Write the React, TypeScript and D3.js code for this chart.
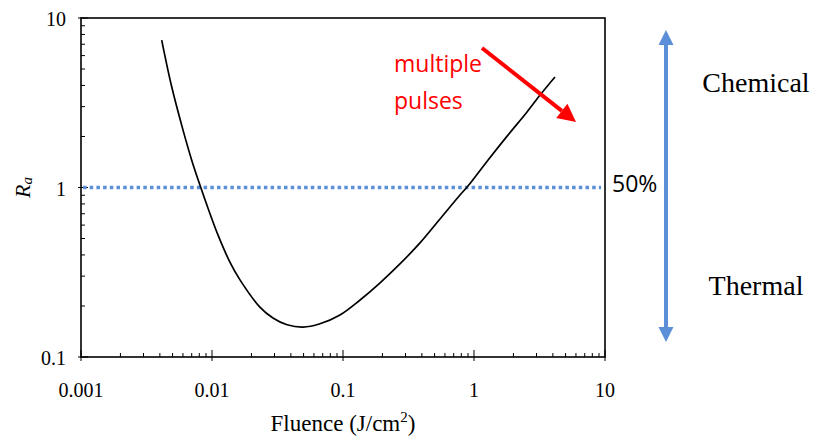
import React from 'react'
import * as d3 from 'd3'

// curve (fluence J/cm2, Ra)
const fluence = [0.00413, 0.00492, 0.00601, 0.007, 0.0081, 0.00931, 0.0111, 0.0137, 0.0164, 0.0232, 0.0292, 0.0374, 0.0496, 0.0667, 0.0948, 0.135, 0.191, 0.272, 0.387, 0.55, 0.782, 0.899, 1.26, 1.79, 2.54, 3.24, 4.15]
const ra = [7.41, 3.94, 2.18, 1.45, 1.03, 0.757, 0.525, 0.363, 0.284, 0.197, 0.17, 0.155, 0.15, 0.157, 0.177, 0.217, 0.273, 0.354, 0.471, 0.652, 0.903, 1.02, 1.43, 2.01, 2.79, 3.56, 4.49]

const xTicks = [0.001, 0.01, 0.1, 1, 10]
const xTickLabels = ['0.001', '0.01', '0.1', '1', '10']
const yTicks = [0.1, 1, 10]
const yTickLabels = ['0.1', '1', '10']
const threshold = 1

const W = 815
const H = 438
const left = 81, right = 605, top = 18, bottom = 357

const serif = '"Liberation Serif", "DejaVu Serif", serif'
const sans = '"Open Sans", "Liberation Sans", sans-serif'
const blue = '#5b8fd8'

if (typeof document !== 'undefined') document.body.style.margin = '0'

export default function App() {
  const x = d3.scaleLog().domain([0.001, 10]).range([left, right])
  const y = d3.scaleLog().domain([0.1, 10]).range([bottom, top])

  const pts = fluence.map((f, i) => [f, ra[i]] as [number, number])
  const line = d3.line<[number, number]>()
    .x(d => x(d[0]))
    .y(d => y(d[1]))
    .curve(d3.curveCatmullRom)

  // minor ticks 2..9 per decade
  const minorX: number[] = []
  xTicks.slice(0, -1).forEach(t => { for (let k = 2; k < 10; k++) minorX.push(t * k) })
  const minorY: number[] = []
  yTicks.slice(0, -1).forEach(t => { for (let k = 2; k < 10; k++) minorY.push(t * k) })

  // red arrow
  const ax1 = 482, ay1 = 48, ax2 = 576, ay2 = 122
  const ang = Math.atan2(ay2 - ay1, ax2 - ax1)
  const headL = 18, headW = 9
  const bx = ax2 - headL * Math.cos(ang), by = ay2 - headL * Math.sin(ang)
  const head = [
    [ax2, ay2],
    [bx + headW * Math.sin(ang), by - headW * Math.cos(ang)],
    [bx - headW * Math.sin(ang), by + headW * Math.cos(ang)],
  ].map(p => p.join(',')).join(' ')

  const vx = 666, vTop = 30, vBot = 342

  return (
    <svg width={W} height={H} style={{ display: 'block' }}>
      <rect width={W} height={H} fill="#fff" />

      {/* frame */}
      <rect x={left} y={top} width={right - left} height={bottom - top} fill="none" stroke="#000" strokeWidth={1.6} />

      {/* ticks */}
      {xTicks.map(t => (
        <line key={'xt' + t} x1={x(t)} x2={x(t)} y1={bottom - 7} y2={bottom + 4} stroke="#000" strokeWidth={1} />
      ))}
      {minorX.map((t, i) => (
        <line key={'xm' + i} x1={x(t)} x2={x(t)} y1={bottom - 4} y2={bottom} stroke="#000" strokeWidth={1} />
      ))}
      {yTicks.map(t => (
        <line key={'yt' + t} x1={left - 3} x2={left + 7} y1={y(t)} y2={y(t)} stroke="#000" strokeWidth={1} />
      ))}
      {minorY.map((t, i) => (
        <line key={'ym' + i} x1={left} x2={left + 4} y1={y(t)} y2={y(t)} stroke="#000" strokeWidth={1} />
      ))}

      {/* tick labels */}
      {xTicks.map((t, i) => (
        <text key={'xl' + t} x={x(t)} y={397} textAnchor="middle" fontFamily={serif} fontSize={20}>{xTickLabels[i]}</text>
      ))}
      {yTicks.map((t, i) => (
        <text key={'yl' + t} x={66} y={y(t) + 8} textAnchor="end" fontFamily={serif} fontSize={20}>{yTickLabels[i]}</text>
      ))}

      {/* axis titles */}
      <text x={343} y={431} textAnchor="middle" fontFamily={serif} fontSize={23}>
        Fluence (J/cm<tspan dy={-9} fontSize={15}>2</tspan><tspan dy={9}>)</tspan>
      </text>
      <text transform={`translate(30,${y(1)}) rotate(-90)`} textAnchor="middle" fontFamily={serif} fontSize={22} fontStyle="italic">
        R<tspan fontSize={15} dy={2}>a</tspan>
      </text>

      {/* 50% threshold */}
      <line x1={left + 2} x2={right - 4} y1={y(threshold)} y2={y(threshold)} stroke={blue} strokeWidth={3.5} strokeDasharray="3.5 3.2" />
      <text x={612} y={192} fontFamily={sans} fontSize={23}>50%</text>

      {/* curve */}
      <path d={line(pts) ?? ''} fill="none" stroke="#000" strokeWidth={1.7} />

      {/* multiple pulses annotation */}
      <text x={394} y={72} fill="#ff0000" fontFamily={sans} fontSize={23}>multiple</text>
      <text x={394} y={109} fill="#ff0000" fontFamily={sans} fontSize={23}>pulses</text>
      <line x1={ax1} y1={ay1} x2={bx} y2={by} stroke="#ff0000" strokeWidth={4} />
      <polygon points={head} fill="#ff0000" />

      {/* chemical / thermal double arrow */}
      <line x1={vx} x2={vx} y1={vTop + 12} y2={vBot - 12} stroke={blue} strokeWidth={4} />
      <polygon points={`${vx},${vTop} ${vx - 7.5},${vTop + 15} ${vx + 7.5},${vTop + 15}`} fill={blue} />
      <polygon points={`${vx},${vBot} ${vx - 7.5},${vBot - 15} ${vx + 7.5},${vBot - 15}`} fill={blue} />
      <text x={756} y={92} textAnchor="middle" fontFamily={serif} fontSize={28}>Chemical</text>
      <text x={756} y={295} textAnchor="middle" fontFamily={serif} fontSize={28}>Thermal</text>
    </svg>
  )
}
